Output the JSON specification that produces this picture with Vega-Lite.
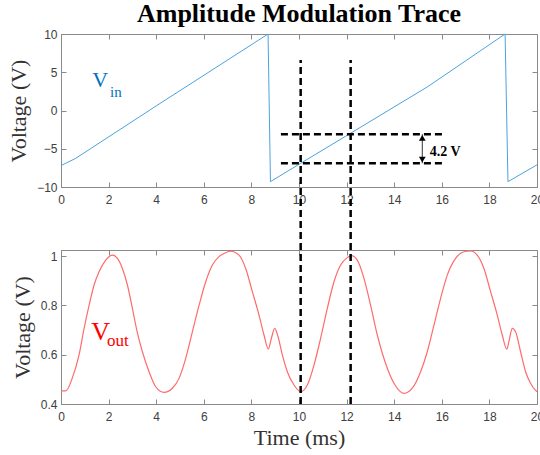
{
  "$schema": "https://vega.github.io/schema/vega-lite/v6.json",
  "padding": {"left": 7, "top": 0, "right": 0, "bottom": 0},
  "background": "white",
  "spacing": 63,
  "bounds": "flush",
  "config": {
    "view": {"stroke": "#8a8a8a", "strokeWidth": 1},
    "axis": {
      "grid": false,
      "labelFont": "Liberation Sans",
      "labelFontSize": 12,
      "labelColor": "#404040",
      "labelFlush": false,
      "labelOverlap": false,
      "titleFont": "Liberation Serif",
      "titleFontSize": 22,
      "titleFontWeight": "normal",
      "titleColor": "#333333",
      "domainColor": "#8a8a8a",
      "tickColor": "#8a8a8a",
      "tickSize": -5
    },
    "axisX": {"labelPadding": 12},
    "axisY": {"labelPadding": 9},
    "title": {"font": "Liberation Serif", "fontSize": 26, "fontWeight": "bold", "color": "#000000"}
  },
  "datasets": {
    "vin": [
      {"t": 0, "v": -7.2}, {"t": 0.62, "v": -6.25}, {"t": 4.0, "v": 0.6}, {"t": 8.7, "v": 10},
      {"t": 8.8, "v": -9.3}, {"t": 10.07, "v": -6.9}, {"t": 12.1, "v": -3.1}, {"t": 15.4, "v": 3.1},
      {"t": 18.66, "v": 10}, {"t": 18.78, "v": -9.3}, {"t": 20, "v": -7.1}
    ],
    "vout": [
      {"t": 0, "v": 0.453}, {"t": 0.2, "v": 0.453}, {"t": 0.47, "v": 0.504}, {"t": 0.76, "v": 0.6},
      {"t": 0.97, "v": 0.707}, {"t": 1.18, "v": 0.8}, {"t": 1.39, "v": 0.883}, {"t": 1.6, "v": 0.937},
      {"t": 1.88, "v": 0.984}, {"t": 2.16, "v": 1.004}, {"t": 2.37, "v": 0.991}, {"t": 2.58, "v": 0.95},
      {"t": 2.79, "v": 0.883}, {"t": 3.0, "v": 0.788}, {"t": 3.2, "v": 0.693}, {"t": 3.42, "v": 0.612},
      {"t": 3.7, "v": 0.531}, {"t": 3.98, "v": 0.47}, {"t": 4.33, "v": 0.447}, {"t": 4.68, "v": 0.464},
      {"t": 4.96, "v": 0.504}, {"t": 5.24, "v": 0.585}, {"t": 5.52, "v": 0.693}, {"t": 5.8, "v": 0.8},
      {"t": 6.08, "v": 0.896}, {"t": 6.36, "v": 0.964}, {"t": 6.64, "v": 0.998}, {"t": 6.85, "v": 1.011},
      {"t": 7.13, "v": 1.02}, {"t": 7.48, "v": 1.004}, {"t": 7.76, "v": 0.95}, {"t": 8.04, "v": 0.856},
      {"t": 8.32, "v": 0.761}, {"t": 8.53, "v": 0.68}, {"t": 8.71, "v": 0.623}, {"t": 8.84, "v": 0.667},
      {"t": 8.98, "v": 0.707}, {"t": 9.12, "v": 0.673}, {"t": 9.3, "v": 0.599}, {"t": 9.51, "v": 0.531},
      {"t": 9.79, "v": 0.477}, {"t": 10.07, "v": 0.45}, {"t": 10.35, "v": 0.477}, {"t": 10.63, "v": 0.558},
      {"t": 10.91, "v": 0.667}, {"t": 11.19, "v": 0.788}, {"t": 11.47, "v": 0.896}, {"t": 11.75, "v": 0.964},
      {"t": 12.03, "v": 0.994}, {"t": 12.2, "v": 1.002}, {"t": 12.45, "v": 0.984}, {"t": 12.73, "v": 0.91},
      {"t": 13.01, "v": 0.8}, {"t": 13.29, "v": 0.68}, {"t": 13.71, "v": 0.545}, {"t": 13.99, "v": 0.484},
      {"t": 14.41, "v": 0.443}, {"t": 14.76, "v": 0.464}, {"t": 15.11, "v": 0.531}, {"t": 15.39, "v": 0.612},
      {"t": 15.67, "v": 0.72}, {"t": 15.95, "v": 0.829}, {"t": 16.23, "v": 0.923}, {"t": 16.58, "v": 0.991},
      {"t": 16.93, "v": 1.018}, {"t": 17.21, "v": 1.021}, {"t": 17.49, "v": 1.004}, {"t": 17.77, "v": 0.95},
      {"t": 18.05, "v": 0.856}, {"t": 18.33, "v": 0.761}, {"t": 18.54, "v": 0.68}, {"t": 18.73, "v": 0.623},
      {"t": 18.82, "v": 0.653}, {"t": 18.96, "v": 0.707}, {"t": 19.1, "v": 0.693}, {"t": 19.31, "v": 0.612},
      {"t": 19.52, "v": 0.531}, {"t": 19.73, "v": 0.484}, {"t": 19.92, "v": 0.457}, {"t": 20, "v": 0.45}
    ],
    "hdash": [
      {"v": -3.1, "t1": 9.24, "t2": 16.05},
      {"v": -6.9, "t1": 9.24, "t2": 16.05}
    ],
    "vdash": [
      {"t": 10.07, "y1": 0.4, "y2": 1.796},
      {"t": 12.17, "y1": 0.4, "y2": 1.796}
    ],
    "arrow": [{"t": 15.18, "v1": -3.1, "v2": -6.9}],
    "heads": [
      {"t": 15.18, "v": -3.58, "shape": "triangle-up"},
      {"t": 15.18, "v": -6.42, "shape": "triangle-down"}
    ],
    "lbl": [{"t": 15.49, "v": -5.91, "text": "4.2 V"}],
    "vinMain": [{"t": 1.31, "v": 3.11, "text": "V"}],
    "vinSub": [{"t": 2.06, "v": 1.73, "text": "in"}],
    "voutMain": [{"t": 1.27, "v": 0.66, "text": "V"}],
    "voutSub": [{"t": 1.93, "v": 0.635, "text": "out"}]
  },
  "vconcat": [
    {
      "width": 476,
      "height": 153,
      "title": {"text": "Amplitude Modulation Trace", "anchor": "middle", "frame": "group", "offset": 1},
      "layer": [
        {
          "data": {"name": "vin"},
          "mark": {"type": "line", "color": "#4DA3DB", "strokeWidth": 1},
          "encoding": {
            "x": {"field": "t", "type": "quantitative", "scale": {"domain": [0, 20], "nice": false},
                  "axis": {"title": null, "values": [0, 2, 4, 6, 8, 10, 12, 14, 16, 18, 20]}},
            "y": {"field": "v", "type": "quantitative", "scale": {"domain": [-10, 10], "nice": false},
                  "axis": {"title": "Voltage (V)", "values": [-10, -5, 0, 5, 10], "titlePadding": 6}}
          }
        },
        {
          "data": {"name": "vin"},
          "mark": {"type": "point", "opacity": 0},
          "encoding": {
            "x": {"field": "t", "type": "quantitative",
                  "axis": {"orient": "top", "labels": false, "title": null, "domain": false, "values": [0, 2, 4, 6, 8, 10, 12, 14, 16, 18, 20]}},
            "y": {"field": "v", "type": "quantitative",
                  "axis": {"orient": "right", "labels": false, "title": null, "domain": false, "values": [-10, -5, 0, 5, 10]}}
          }
        },
        {
          "data": {"name": "hdash"},
          "mark": {"type": "rule", "color": "#000000", "strokeWidth": 2.5, "strokeDash": [7, 4]},
          "encoding": {
            "y": {"field": "v", "type": "quantitative", "axis": null},
            "x": {"field": "t1", "type": "quantitative", "axis": null},
            "x2": {"field": "t2"}
          }
        },
        {
          "data": {"name": "arrow"},
          "mark": {"type": "rule", "color": "#333333", "strokeWidth": 1},
          "encoding": {
            "x": {"field": "t", "type": "quantitative", "axis": null},
            "y": {"field": "v1", "type": "quantitative", "axis": null},
            "y2": {"field": "v2"}
          }
        },
        {
          "data": {"name": "heads"},
          "mark": {"type": "point", "filled": true, "color": "#000000", "size": 45, "opacity": 1},
          "encoding": {
            "x": {"field": "t", "type": "quantitative", "axis": null},
            "y": {"field": "v", "type": "quantitative", "axis": null},
            "shape": {"field": "shape", "type": "nominal", "scale": null, "legend": null}
          }
        },
        {
          "data": {"name": "lbl"},
          "mark": {"type": "text", "font": "Liberation Serif", "fontSize": 14, "fontWeight": "bold", "align": "left", "baseline": "alphabetic", "color": "#000000"},
          "encoding": {
            "x": {"field": "t", "type": "quantitative", "axis": null},
            "y": {"field": "v", "type": "quantitative", "axis": null},
            "text": {"field": "text"}
          }
        },
        {
          "data": {"name": "vinMain"},
          "mark": {"type": "text", "font": "Liberation Serif", "fontSize": 22, "align": "left", "baseline": "alphabetic", "color": "#0072BD"},
          "encoding": {
            "x": {"field": "t", "type": "quantitative", "axis": null},
            "y": {"field": "v", "type": "quantitative", "axis": null},
            "text": {"field": "text"}
          }
        },
        {
          "data": {"name": "vinSub"},
          "mark": {"type": "text", "font": "Liberation Serif", "fontSize": 15, "align": "left", "baseline": "alphabetic", "color": "#0072BD"},
          "encoding": {
            "x": {"field": "t", "type": "quantitative", "axis": null},
            "y": {"field": "v", "type": "quantitative", "axis": null},
            "text": {"field": "text"}
          }
        }
      ],
      "resolve": {"axis": {"x": "independent", "y": "independent"}}
    },
    {
      "width": 476,
      "height": 154,
      "layer": [
        {
          "data": {"name": "vout"},
          "mark": {"type": "line", "color": "#FF6B6B", "strokeWidth": 1.2, "interpolate": "monotone"},
          "encoding": {
            "x": {"field": "t", "type": "quantitative", "scale": {"domain": [0, 20], "nice": false},
                  "axis": {"title": "Time (ms)", "values": [0, 2, 4, 6, 8, 10, 12, 14, 16, 18, 20], "titlePadding": 5}},
            "y": {"field": "v", "type": "quantitative", "scale": {"domain": [0.4, 1.025], "nice": false, "zero": false},
                  "axis": {"title": "Voltage (V)", "values": [0.4, 0.6, 0.8, 1], "format": "~g", "titlePadding": 6}}
          }
        },
        {
          "data": {"name": "vout"},
          "mark": {"type": "point", "opacity": 0},
          "encoding": {
            "x": {"field": "t", "type": "quantitative",
                  "axis": {"orient": "top", "labels": false, "title": null, "domain": false, "values": [0, 2, 4, 6, 8, 10, 12, 14, 16, 18, 20]}},
            "y": {"field": "v", "type": "quantitative",
                  "axis": {"orient": "right", "labels": false, "title": null, "domain": false, "values": [0.4, 0.6, 0.8, 1]}}
          }
        },
        {
          "data": {"name": "vdash"},
          "mark": {"type": "rule", "color": "#000000", "strokeWidth": 2.5, "strokeDash": [7, 4]},
          "encoding": {
            "x": {"field": "t", "type": "quantitative", "axis": null},
            "y": {"field": "y1", "type": "quantitative", "axis": null},
            "y2": {"field": "y2"}
          }
        },
        {
          "data": {"name": "voutMain"},
          "mark": {"type": "text", "font": "Liberation Serif", "fontSize": 26, "align": "left", "baseline": "alphabetic", "color": "#FF0000"},
          "encoding": {
            "x": {"field": "t", "type": "quantitative", "axis": null},
            "y": {"field": "v", "type": "quantitative", "axis": null},
            "text": {"field": "text"}
          }
        },
        {
          "data": {"name": "voutSub"},
          "mark": {"type": "text", "font": "Liberation Serif", "fontSize": 17, "align": "left", "baseline": "alphabetic", "color": "#FF0000"},
          "encoding": {
            "x": {"field": "t", "type": "quantitative", "axis": null},
            "y": {"field": "v", "type": "quantitative", "axis": null},
            "text": {"field": "text"}
          }
        }
      ],
      "resolve": {"axis": {"x": "independent", "y": "independent"}}
    }
  ]
}
